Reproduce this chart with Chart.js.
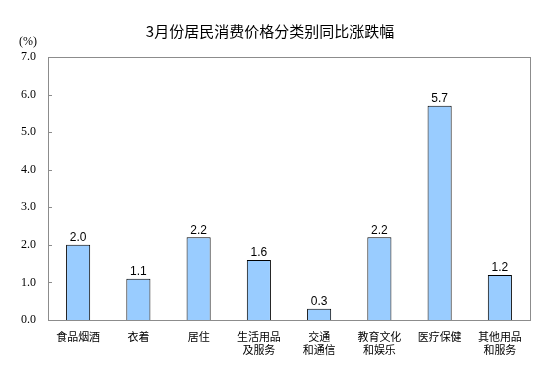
<!DOCTYPE html>
<html>
<head>
<meta charset="utf-8">
<script src="https://cdn.jsdelivr.net/npm/chart.js@4"></script>
<style>
  html, body { margin: 0; padding: 0; background: #fff; }
  #wrap { width: 553px; height: 384px; }
</style>
</head>
<body>
<div id="wrap"><canvas id="cpiChart"></canvas></div>
<script>
// categories and values
const categories = [
  '食品烟酒',
  '衣着',
  '居住',
  ['生活用品', '及服务'],
  ['交通', '和通信'],
  ['教育文化', '和娱乐'],
  '医疗保健',
  ['其他用品', '和服务']
];
const changes = [2.0, 1.1, 2.2, 1.6, 0.3, 2.2, 5.7, 1.2];
const yTicks = [0, 1, 2, 3, 4, 5, 6, 7];

// frame, inward ticks, unit label and value labels
const decorations = {
  id: 'decorations',
  afterDraw(chart) {
    const { ctx, chartArea: a, scales } = chart;
    ctx.save();
    ctx.strokeStyle = '#8c8c8c';
    ctx.lineWidth = 1;
    ctx.strokeRect(Math.round(a.left) + 0.5, Math.round(a.top) + 0.5,
      Math.round(a.right - a.left), Math.round(a.bottom - a.top));
    ctx.beginPath();
    yTicks.forEach(v => {
      const y = Math.round(scales.y.getPixelForValue(v)) + 0.5;
      ctx.moveTo(a.left, y);
      ctx.lineTo(a.left + 4, y);
    });
    ctx.stroke();

    ctx.fillStyle = '#000';
    ctx.font = '12px "Liberation Serif"';
    ctx.textAlign = 'center';
    ctx.textBaseline = 'middle';
    ctx.fillText('(%)', 28, 42);

    ctx.font = '12px "Liberation Sans"';
    ctx.textBaseline = 'bottom';
    chart.getDatasetMeta(0).data.forEach((bar, i) => {
      ctx.fillText(changes[i].toFixed(1), bar.x, bar.y - 1);
    });
    ctx.restore();
  }
};

new Chart(document.getElementById('cpiChart'), {
  type: 'bar',
  data: {
    labels: categories,
    datasets: [{
      data: changes,
      backgroundColor: '#99ccff',
      borderColor: '#000',
      borderWidth: 1,
      barPercentage: 0.8,
      categoryPercentage: 0.5
    }]
  },
  options: {
    responsive: true,
    maintainAspectRatio: false,
    animation: false,
    layout: { padding: { top: 22, left: 10, right: 23, bottom: 0 } },
    plugins: {
      legend: { display: false },
      tooltip: { enabled: false },
      title: {
        display: true,
        text: '3月份居民消费价格分类别同比涨跌幅',
        color: '#000',
        font: { size: 15, family: '"Noto Sans CJK SC"', weight: 'normal' },
        padding: { top: 0, bottom: 17 }
      }
    },
    scales: {
      x: {
        grid: { display: false, drawTicks: false },
        border: { display: false },
        ticks: {
          color: '#000',
          font: { size: 11, family: '"Noto Sans CJK SC"' },
          padding: 10,
          maxRotation: 0,
          autoSkip: false
        },
        afterFit: s => { s.height = 64; }
      },
      y: {
        min: 0,
        max: 7,
        grid: { display: false, drawTicks: false },
        border: { display: false },
        ticks: {
          stepSize: 1,
          color: '#000',
          padding: 12,
          font: { size: 12, family: '"Liberation Serif"' },
          callback: v => v.toFixed(1)
        },
        afterFit: s => { s.width = 38; }
      }
    }
  },
  plugins: [decorations]
});
</script>
</body>
</html>
